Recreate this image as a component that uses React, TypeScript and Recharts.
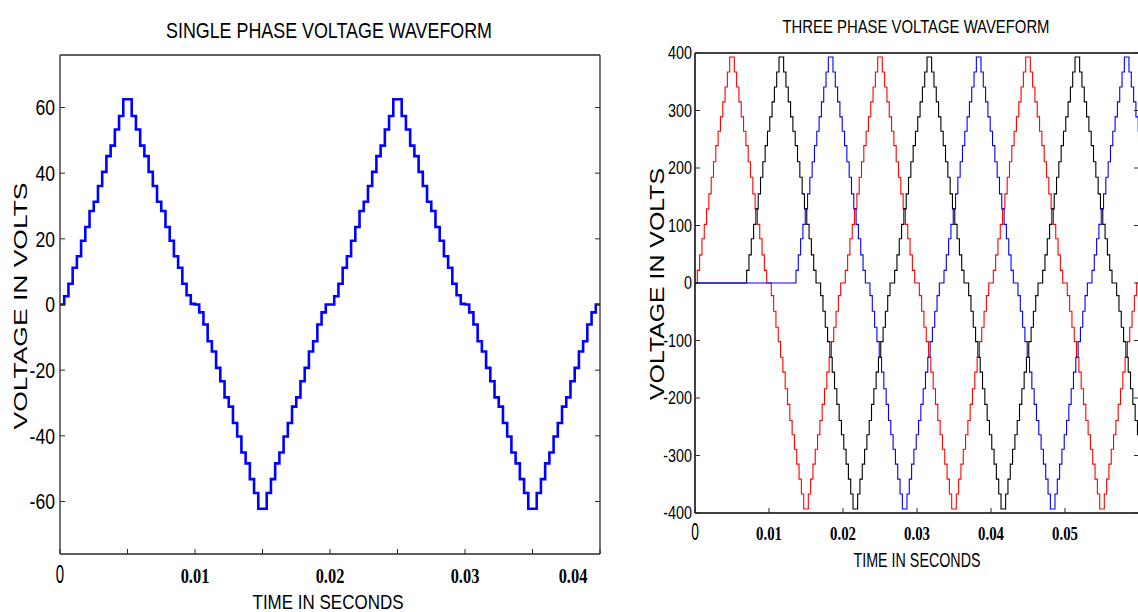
import React from "react";
import { Line, LineChart, XAxis, YAxis } from "recharts";

// each inverter level lasts 1/64 of a 20 ms cycle
const STEP = 0.0003125;

// one cycle of the single phase staircase, level by level
const singlePhaseCycle = [
  0, 2.5, 6.3, 11.2, 14.7, 19.4, 23.6, 28.5, 31.3, 36.1, 40.4, 45.2, 48.4, 53.3, 57.4, 62.5,
  62.5, 57.4, 53.3, 48.4, 45.2, 40.4, 36.1, 31.3, 28.5, 23.6, 19.4, 14.7, 11.2, 6.3, 2.8, 0.2,
  0, -2.4, -6.1, -11.2, -14.3, -19.3, -23.4, -28.3, -31.1, -36.1, -40.2, -45.1, -48.4, -53.2, -57.4, -62.2,
  -62.2, -57.4, -53.2, -48.4, -45.1, -40.2, -36.1, -31.1, -28.3, -23.4, -19.3, -14.3, -11.2, -6.1, -2.4, 0
];

// one cycle of a three phase staircase (same for every phase)
const threePhaseCycle = [
  0, 22, 49, 77, 102, 129, 155, 184, 211, 239, 264, 289, 315, 341, 367, 393,
  393, 367, 341, 315, 289, 264, 239, 211, 184, 155, 129, 102, 77, 49, 22, 0,
  0, -22, -49, -77, -102, -129, -155, -184, -211, -239, -264, -289, -315, -341, -367, -393,
  -393, -367, -341, -315, -289, -264, -239, -211, -184, -155, -129, -102, -77, -49, -22, 0
];

// phase start times (s): red, black, blue
const phaseStarts = [0, 0.0066667, 0.0133333];
const phaseColors = ["#ff0000", "#000000", "#0000ff"];

const singleXTicks = [0, 0.005, 0.01, 0.015, 0.02, 0.025, 0.03, 0.035, 0.04];
const singleXLabels = ["0", "", "0.01", "", "0.02", "", "0.03", "", "0.04"];
const singleYTicks = [-60, -40, -20, 0, 20, 40, 60];

const threeXTicks = [0, 0.01, 0.02, 0.03, 0.04, 0.05, 0.06];
const threeXLabels = ["0", "0.01", "0.02", "0.03", "0.04", "0.05", ""];
const threeYTicks = [-400, -300, -200, -100, 0, 100, 200, 300, 400];

const SANS = "'Liberation Sans', Arial, sans-serif";
const SERIF = "'Liberation Serif', 'Times New Roman', serif";
const AXIS = "#2a2a2a";

function staircase(cycle: number[], start: number, end: number) {
  const pts: { t: number; v: number }[] = [];
  if (start > 0) pts.push({ t: 0, v: 0 });
  const n = Math.ceil((end - start) / STEP - 1e-6);
  for (let k = 0; k < n; k++) {
    pts.push({ t: start + k * STEP, v: cycle[k % cycle.length] });
  }
  pts.push({ t: end, v: pts[pts.length - 1].v });
  return pts;
}

const singleData = staircase(singlePhaseCycle, 0, 0.04);
const threeData = phaseStarts.map((s) => staircase(threePhaseCycle, s, 0.06));

function BottomTick(props: any) {
  const { x, y, index, labels, fontSize, gap, lastShift } = props;
  const label = labels[index];
  const isZero = label === "0";
  const dx = index === labels.length - 1 ? lastShift : 0;
  return (
    <g>
      <line x1={x} y1={y} x2={x} y2={y - 5} stroke={AXIS} strokeWidth={1} />
      {label && (
        <text
          transform={`translate(${x + dx},${y + gap}) scale(${isZero ? 0.6 : 0.78},1)`}
          textAnchor="middle"
          fontFamily={isZero ? SANS : SERIF}
          fontWeight={isZero ? 400 : 700}
          fontSize={isZero ? fontSize + 4 : fontSize}
          fill="#000"
        >
          {label}
        </text>
      )}
    </g>
  );
}

function TopTick(props: any) {
  const { x, y } = props;
  return <line x1={x} y1={y} x2={x} y2={y + 5} stroke={AXIS} strokeWidth={1} />;
}

function LeftTick(props: any) {
  const { x, y, payload, fontSize, gap } = props;
  return (
    <g>
      <line x1={x} y1={y} x2={x + 5} y2={y} stroke={AXIS} strokeWidth={1} />
      <text
        transform={`translate(${x - gap},${y}) scale(0.8,1)`}
        textAnchor="end"
        dy="0.36em"
        fontFamily={SANS}
        fontSize={fontSize}
        fill="#000"
      >
        {payload.value}
      </text>
    </g>
  );
}

function RightTick(props: any) {
  const { x, y } = props;
  return <line x1={x} y1={y} x2={x - 5} y2={y} stroke={AXIS} strokeWidth={1} />;
}

function SinglePhaseChart() {
  return (
    <LineChart width={640} height={612} margin={{ top: 54, right: 39, bottom: 28, left: 0 }}>
      <XAxis
        dataKey="t"
        type="number"
        domain={[0, 0.04]}
        ticks={singleXTicks}
        allowDataOverflow
        height={30}
        tickSize={0}
        tickMargin={0}
        tickLine={false}
        axisLine={{ stroke: AXIS, strokeWidth: 1.3 }}
        tick={<BottomTick labels={singleXLabels} fontSize={21} gap={29} lastShift={-27} />}
        interval={0}
      />
      <XAxis
        xAxisId="top"
        orientation="top"
        type="number"
        domain={[0, 0.04]}
        ticks={singleXTicks}
        allowDataOverflow
        height={1}
        tickSize={0}
        tickMargin={0}
        tickLine={false}
        axisLine={{ stroke: AXIS, strokeWidth: 1.3 }}
        tick={<TopTick />}
        interval={0}
      />
      <YAxis
        type="number"
        domain={[-76, 76]}
        ticks={singleYTicks}
        allowDataOverflow
        width={60}
        tickSize={0}
        tickMargin={0}
        tickLine={false}
        axisLine={{ stroke: AXIS, strokeWidth: 1.3 }}
        tick={<LeftTick fontSize={22} gap={5} />}
        interval={0}
      />
      <YAxis
        yAxisId="right"
        orientation="right"
        type="number"
        domain={[-76, 76]}
        ticks={singleYTicks}
        allowDataOverflow
        width={1}
        tickSize={0}
        tickMargin={0}
        tickLine={false}
        axisLine={{ stroke: AXIS, strokeWidth: 1.3 }}
        tick={<RightTick />}
        interval={0}
      />
      <Line
        data={singleData}
        dataKey="v"
        type="stepAfter"
        stroke="#0000ff"
        strokeWidth={2.6}
        dot={false}
        isAnimationActive={false}
      />
    </LineChart>
  );
}

function ThreePhaseChart() {
  return (
    <LineChart width={520} height={612} margin={{ top: 52, right: 20, bottom: 69, left: 0 }}>
      <XAxis
        dataKey="t"
        type="number"
        domain={[0, 0.06]}
        ticks={threeXTicks}
        allowDataOverflow
        height={30}
        tickSize={0}
        tickMargin={0}
        tickLine={false}
        axisLine={{ stroke: "#000", strokeWidth: 1.5 }}
        tick={<BottomTick labels={threeXLabels} fontSize={19} gap={27} lastShift={0} />}
        interval={0}
      />
      <XAxis
        xAxisId="top"
        orientation="top"
        type="number"
        domain={[0, 0.06]}
        ticks={threeXTicks}
        allowDataOverflow
        height={1}
        tickSize={0}
        tickMargin={0}
        tickLine={false}
        axisLine={{ stroke: "#000", strokeWidth: 1.5 }}
        tick={<TopTick />}
        interval={0}
      />
      <YAxis
        type="number"
        domain={[-400, 400]}
        ticks={threeYTicks}
        allowDataOverflow
        width={55}
        tickSize={0}
        tickMargin={0}
        tickLine={false}
        axisLine={{ stroke: "#000", strokeWidth: 1.5 }}
        tick={<LeftTick fontSize={18} gap={3} />}
        interval={0}
      />
      <YAxis
        yAxisId="right"
        orientation="right"
        type="number"
        domain={[-400, 400]}
        ticks={threeYTicks}
        allowDataOverflow
        width={1}
        tickSize={0}
        tickMargin={0}
        tickLine={false}
        axisLine={{ stroke: "#000", strokeWidth: 1.5 }}
        tick={<RightTick />}
        interval={0}
      />
      {threeData.map((d, i) => (
        <Line
          key={i}
          data={d}
          dataKey="v"
          type="stepAfter"
          stroke={phaseColors[i]}
          strokeWidth={1.1}
          dot={false}
          isAnimationActive={false}
        />
      ))}
    </LineChart>
  );
}

function Caption(props: any) {
  const { x, y, len, size, rotate, children } = props;
  return (
    <text
      transform={`translate(${x},${y})${rotate ? " rotate(-90)" : ""}`}
      textAnchor="middle"
      fontFamily={SANS}
      fontSize={size}
      textLength={len}
      lengthAdjust="spacingAndGlyphs"
      fill="#000"
    >
      {children}
    </text>
  );
}

export default function App() {
  return (
    <div
      style={{
        position: "absolute",
        left: 0,
        top: 0,
        width: 1138,
        height: 612,
        overflow: "hidden",
        background: "#fff"
      }}
    >
      <div style={{ position: "absolute", left: 0, top: 0 }}>
        <SinglePhaseChart />
      </div>
      <div style={{ position: "absolute", left: 640, top: 0 }}>
        <ThreePhaseChart />
      </div>
      <svg
        width={1138}
        height={612}
        style={{ position: "absolute", left: 0, top: 0, pointerEvents: "none" }}
      >
        <Caption x={329} y={38} len={326} size={22}>SINGLE PHASE VOLTAGE WAVEFORM</Caption>
        <Caption x={916} y={33} len={267} size={19}>THREE PHASE VOLTAGE WAVEFORM</Caption>
        <Caption x={328} y={609} len={151} size={21}>TIME IN SECONDS</Caption>
        <Caption x={917} y={567} len={127} size={20}>TIME IN SECONDS</Caption>
        <Caption x={27} y={306} len={247} size={19} rotate>VOLTAGE IN VOLTS</Caption>
        <Caption x={664} y={284} len={232} size={20} rotate>VOLTAGE IN VOLTS</Caption>
      </svg>
    </div>
  );
}
